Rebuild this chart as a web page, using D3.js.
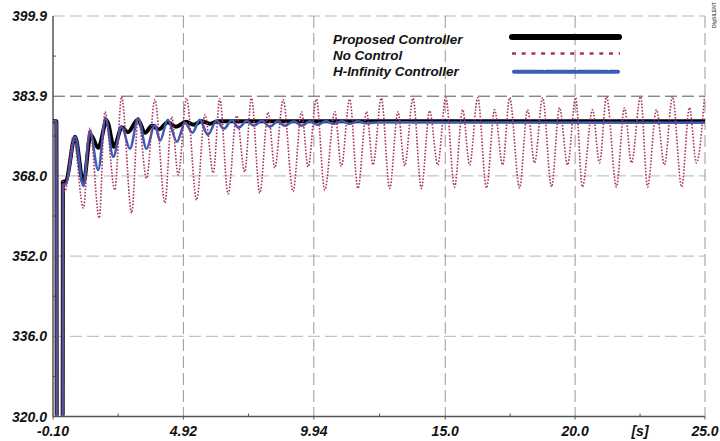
<!DOCTYPE html>
<meta charset="utf-8">
<script src="https://d3js.org/d3.v7.min.js"></script>
<style>
  body { margin: 0; background: #fff; }
  text { font-family: "Liberation Sans", Arial, sans-serif; font-weight: bold; font-style: italic; fill: #111; }
</style>
<svg id="chart" width="720" height="441"></svg>
<script>

// Axis ticks
const xTicks = [-0.10, 4.92, 9.94, 15.0, 20.0, 25.0];
const xTickLabels = ["-0.10", "4.92", "9.94", "15.0", "20.0", "25.0"];
const yTicks = [320.0, 336.0, 352.0, 368.0, 383.9, 399.9];
const yTickLabels = ["320.0", "336.0", "352.0", "368.0", "383.9", "399.9"];

// Proposed controller (time [s], value)
const timeProposed = [-0.10, 0.03, 0.05, 0.27, 0.28, 0.40, 0.75, 1.07, 1.35, 1.64, 1.97, 2.25, 2.55, 2.78,
  3.17, 3.44, 3.71, 3.98, 4.32, 4.63, 5.02, 5.32, 5.63, 5.94, 6.25, 8.0, 12.0, 25.0];
const valueProposed = [378.9, 378.9, 300.0, 300.0, 366.8, 367.0, 375.8, 366.6, 376.2, 373.6, 379.0, 373.8, 377.7, 376.7,
  379.2, 376.6, 378.0, 377.3, 378.7, 377.8, 378.8, 378.2, 378.9, 378.4, 378.9, 378.9, 378.9, 378.9];

// No control
const timeNoControl = [-0.10, 0.03, 0.05, 0.27, 0.28, 0.36, 0.68, 1.07, 1.32, 1.68, 1.90, 2.28, 2.54, 2.93,
  3.18, 3.50, 3.82, 4.21, 4.47, 4.72, 5.04, 5.43, 5.75, 6.07, 6.32, 6.64, 6.97, 7.28,
  7.54, 7.86, 8.18, 8.44, 8.76, 9.14, 9.47, 9.72, 10.04, 10.36, 10.75, 11.00, 11.32, 11.64,
  11.97, 12.22, 12.54, 12.86, 13.18, 13.44, 13.76, 14.08, 14.40, 14.71, 15.02, 15.36, 15.67, 15.94,
  16.25, 16.59, 16.90, 17.21, 17.48, 17.86, 18.17, 18.44, 18.75, 19.09, 19.40, 19.71, 20.02, 20.28,
  20.67, 20.94, 21.21, 21.59, 21.90, 22.17, 22.52, 22.79, 23.13, 23.44, 23.75, 24.10, 24.40, 24.67, 24.98];
const valueNoControl = [378.9, 378.9, 300.0, 300.0, 366.9, 364.9, 375.8, 361.6, 377.5, 359.6, 380.8, 365.2, 383.8, 360.6,
  379.6, 367.5, 383.2, 362.6, 379.8, 368.2, 383.5, 363.2, 380.2, 368.6, 383.4, 364.4, 380.0, 368.8,
  383.5, 364.6, 380.7, 369.6, 383.2, 364.9, 380.8, 369.8, 383.3, 365.2, 380.8, 369.9, 383.3, 365.5,
  380.8, 370.2, 383.5, 365.5, 380.8, 370.0, 383.5, 365.5, 381.0, 370.2, 383.6, 365.8, 381.2, 370.2,
  383.6, 365.6, 381.2, 370.2, 383.6, 365.6, 381.2, 370.6, 383.6, 365.8, 381.6, 370.2, 383.6, 365.8,
  381.2, 370.6, 383.8, 365.8, 381.6, 370.6, 383.8, 365.8, 381.2, 370.2, 383.8, 365.8, 381.6, 370.6, 383.8];

// H-infinity controller
const timeHinf = [-0.10, 0.03, 0.05, 0.27, 0.28, 0.40, 0.75, 1.07, 1.32, 1.64, 1.92, 2.22, 2.54, 2.86,
  3.18, 3.50, 3.82, 4.02, 4.32, 4.67, 4.98, 5.27, 5.55, 5.86, 6.20, 6.48, 6.78, 7.05,
  7.36, 7.63, 7.94, 8.25, 8.55, 8.82, 9.17, 9.48, 9.78, 10.09, 10.40, 10.71, 11.02, 11.32,
  11.63, 11.94, 12.48, 25.0];
const valueHinf = [378.9, 378.9, 300.0, 300.0, 366.2, 366.4, 375.8, 366.0, 377.0, 369.2, 379.6, 371.8, 377.8, 373.4,
  379.5, 373.4, 378.2, 375.0, 379.2, 374.8, 378.6, 376.6, 379.2, 376.2, 379.0, 377.4, 379.1, 377.6,
  379.0, 378.0, 379.0, 377.8, 378.9, 378.0, 378.9, 378.0, 378.9, 378.2, 378.9, 378.4, 378.9, 378.4,
  378.9, 378.5, 378.7, 378.6];

const legendNames = ["Proposed Controller", "No Control", "H-Infinity Controller"];

const svg = d3.select("#chart");
const plotLeft = 53, plotRight = 705, plotTop = 16, plotBottom = 416.5;

const x = d3.scaleLinear().domain([-0.10, 25.0]).range([plotLeft, plotRight]);
const y = d3.scaleLinear().domain([320.0, 399.9]).range([plotBottom, plotTop]);

// grid
const grid = svg.append("g");
grid.selectAll(".hgrid")
  .data(yTicks.slice(1))
  .enter().append("line")
  .attr("x1", plotLeft).attr("x2", plotRight)
  .attr("y1", d => y(d)).attr("y2", d => y(d))
  .attr("stroke", d => d === 383.9 ? "#555" : "#b5b5b5")
  .attr("stroke-width", 1)
  .attr("stroke-dasharray", "12,5");

grid.selectAll(".vgrid")
  .data(xTicks.slice(1))
  .enter().append("line")
  .attr("x1", d => x(d)).attr("x2", d => x(d))
  .attr("y1", plotTop).attr("y2", plotBottom)
  .attr("stroke", "#999")
  .attr("stroke-width", 1)
  .attr("stroke-dasharray", "12,5");

// axes lines
svg.append("line").attr("x1", plotLeft).attr("x2", plotLeft).attr("y1", plotTop).attr("y2", plotBottom)
  .attr("stroke", "#555").attr("stroke-width", 1.5);
svg.append("line").attr("x1", plotLeft).attr("x2", plotRight).attr("y1", plotBottom).attr("y2", plotBottom)
  .attr("stroke", "#555").attr("stroke-width", 1.5);

// minor ticks (midpoints)
const xMinor = d3.pairs(xTicks).map(p => (p[0] + p[1]) / 2);
const yMinor = d3.pairs(yTicks).map(p => (p[0] + p[1]) / 2);
svg.append("g").selectAll("line").data(xMinor).enter().append("line")
  .attr("x1", d => x(d)).attr("x2", d => x(d))
  .attr("y1", plotBottom).attr("y2", plotBottom - 3)
  .attr("stroke", "#555");
svg.append("g").selectAll("line").data(yMinor).enter().append("line")
  .attr("x1", plotLeft).attr("x2", plotLeft + 3)
  .attr("y1", d => y(d)).attr("y2", d => y(d))
  .attr("stroke", "#555");
svg.append("g").selectAll("line").data(xTicks).enter().append("line")
  .attr("x1", d => x(d)).attr("x2", d => x(d))
  .attr("y1", plotBottom).attr("y2", plotBottom + 3)
  .attr("stroke", "#555");

// tick labels
svg.append("g").selectAll("text").data(yTicks).enter().append("text")
  .attr("x", 47).attr("y", d => y(d) + 5)
  .attr("text-anchor", "end")
  .style("font-size", "14px")
  .text((d, i) => yTickLabels[i]);
svg.append("g").selectAll("text").data(xTicks).enter().append("text")
  .attr("x", d => x(d)).attr("y", 436)
  .attr("text-anchor", "middle")
  .style("font-size", "14px")
  .text((d, i) => xTickLabels[i]);
svg.append("text").attr("x", 640).attr("y", 436).attr("text-anchor", "middle")
  .style("font-size", "14px").text("[s]");

// clip
svg.append("clipPath").attr("id", "plotclip")
  .append("rect").attr("x", plotLeft).attr("y", plotTop - 2)
  .attr("width", plotRight - plotLeft + 2).attr("height", plotBottom - plotTop + 1);

const line = d3.line()
  .x(d => x(d[0]))
  .y(d => y(d[1]))
  .curve(d3.curveMonotoneX);

const series = [
  { t: timeProposed, v: valueProposed, color: "#000", width: 4, dash: null },
  { t: timeHinf, v: valueHinf, color: "#3b5cb5", width: 2.5, dash: null },
  { t: timeNoControl, v: valueNoControl, color: "#a8325f", width: 1.6, dash: "1.6,1.6" }
];

const plot = svg.append("g").attr("clip-path", "url(#plotclip)");
series.forEach(s => {
  plot.append("path")
    .datum(d3.zip(s.t, s.v))
    .attr("fill", "none")
    .attr("stroke", s.color)
    .attr("stroke-width", s.width)
    .attr("stroke-dasharray", s.dash)
    .attr("stroke-linejoin", "round")
    .attr("d", line);
});

// legend
const legendY = [44, 60, 76];
svg.append("g").selectAll("text").data(legendNames).enter().append("text")
  .attr("x", 333).attr("y", (d, i) => legendY[i])
  .style("font-size", "13.4px")
  .text(d => d);

svg.append("line").attr("x1", 512).attr("x2", 619).attr("y1", 37).attr("y2", 37)
  .attr("stroke", "#000").attr("stroke-width", 6).attr("stroke-linecap", "round");
svg.append("line").attr("x1", 512).attr("x2", 620).attr("y1", 53.5).attr("y2", 53.5)
  .attr("stroke", "#a8325f").attr("stroke-width", 2.5).attr("stroke-dasharray", "4,5.7");
svg.append("line").attr("x1", 514).attr("x2", 618).attr("y1", 71.7).attr("y2", 71.7)
  .attr("stroke", "#3b5cb5").attr("stroke-width", 4).attr("stroke-linecap", "round")
  .attr("stroke-dasharray", "29,3");

// small rotated mark at top right
svg.append("text")
  .attr("transform", "translate(716,28) rotate(-90)")
  .style("font-size", "5px").style("font-style", "normal").style("fill", "#666")
  .text("DIgSILENT");

</script>
